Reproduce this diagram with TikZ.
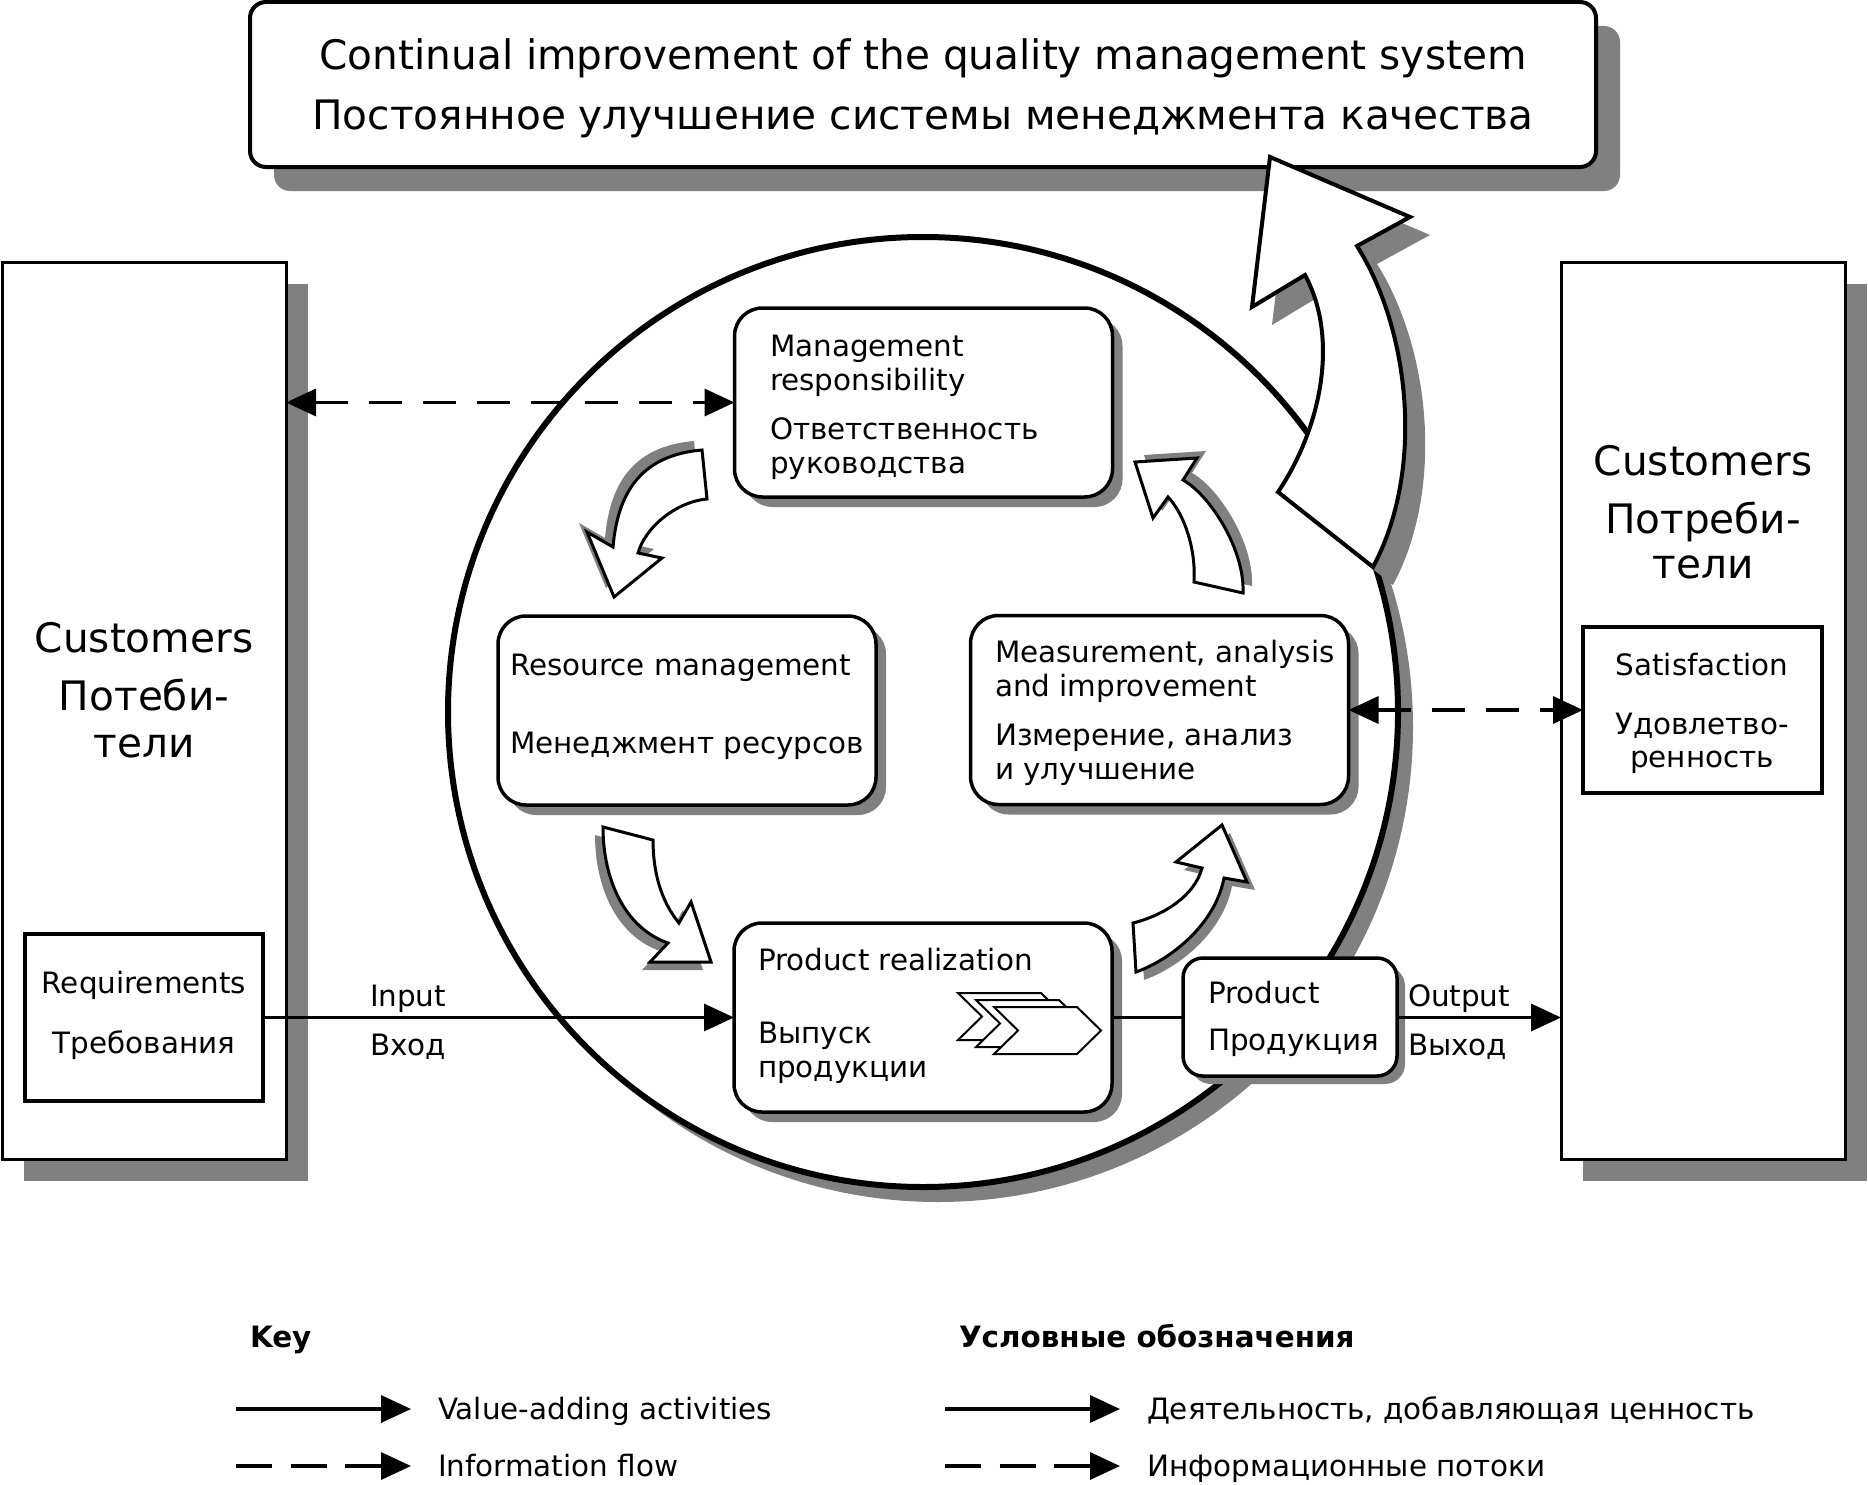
\documentclass[tikz,border=0pt]{standalone}
\usepackage{fontspec}
\setmainfont{DejaVu Sans}
\usetikzlibrary{arrows.meta,shadows}
\definecolor{shgray}{RGB}{128,128,128}
\newcommand\qArrA{(702,450) .. controls (644,455) and (618,489) .. (613,547) -- (587,532) -- (614,597) -- (662,558) -- (638,553) .. controls (645,528) and (675,502) .. (707,499) -- cycle}
\newcommand\qArrB{(1243,593) .. controls (1245,550) and (1210,495) .. (1183,480) -- (1197,458) -- (1135,462) -- (1153,518) -- (1168,497) .. controls (1185,515) and (1196,550) .. (1194,582) -- cycle}
\newcommand\qArrC{(603,827) .. controls (603,880) and (625,928) .. (668,943) -- (650,962) -- (711,962) -- (691,902) -- (679,923) .. controls (660,900) and (653,870) .. (653,840) -- cycle}
\newcommand\qArrD{(1136,972) .. controls (1170,960) and (1215,925) .. (1224,878) -- (1247,882) -- (1222,825) -- (1176,862) -- (1202,868) .. controls (1195,895) and (1165,915) .. (1133,923) -- cycle}
\newcommand\qArrBig{(1270,157) -- (1410,217) -- (1357,246) .. controls (1410,330) and (1425,470) .. (1373,567) -- (1278,492) .. controls (1320,430) and (1340,340) .. (1305,275) -- (1252,307) -- cycle}
\begin{document}
\begin{tikzpicture}[x=1pt,y=-1pt,
  every node/.style={inner sep=0pt,outer sep=0pt},
  >={Triangle[length=30pt,width=27pt]},
  bigf/.style={font=\fontsize{40.6pt}{48pt}\selectfont},
  smf/.style={font=\fontsize{29.4pt}{34pt}\selectfont},
  legb/.style={font=\fontsize{29.4pt}{34pt}\selectfont\bfseries},
  lbl/.style={smf,anchor=base west},
  ctrb/.style={bigf,anchor=base},
  ctrs/.style={smf,anchor=base},
  shd/.style={drop shadow={shadow xshift=#1,shadow yshift=-#1,fill=shgray,opacity=1}},
  titlebox/.style={draw,line width=4pt,fill=white,rounded corners=16pt,minimum width=1346pt,minimum height=165pt,shd=24pt},
  custbox/.style={draw,line width=3pt,fill=white,minimum width=284pt,minimum height=897pt,shd=22pt},
  plainbox/.style={draw,line width=4pt,fill=white,minimum width=238pt,minimum height=167pt},
  procbox/.style={draw,line width=3.5pt,fill=white,rounded corners=28pt,minimum width=378pt,minimum height=189pt,shd=10pt},
  prodbox/.style={draw,line width=3.5pt,fill=white,rounded corners=20pt,minimum width=214pt,minimum height=118pt,shd=8pt},
  flow/.style={line width=3.5pt,->},
  info/.style={line width=3.5pt,dash pattern=on 33pt off 21pt,<->},
  legdash/.style={line width=3.5pt,dash pattern=on 36pt off 18.5pt,->},
  blockarrow/.style={draw,line width=3pt,fill=white,line join=miter},
  chev/.style={draw,line width=2pt,fill=white,line join=miter},
]
\useasboundingbox (0,0) rectangle (1868,1485);

% title
\node[titlebox] (title) at (923,84.5) {};
\node[ctrb] (t1) at (923,70) {Continual improvement of the quality management system};
\node[ctrb] (t2) at (923,129) {Постоянное улучшение системы менеджмента качества};

% customers
\node[custbox] (custL) at (144,710.5) {};
\node[ctrb] (cl1) at (144,652) {Customers};
\node[ctrb] (cl2) at (144,710) {Потеби-};
\node[ctrb] (cl3) at (144,757) {тели};
\node[plainbox] (req) at (144,1017.5) {};
\node[ctrs] (rq1) at (144,993) {Requirements};
\node[ctrs] (rq2) at (144,1053) {Требования};

\node[custbox] (custR) at (1703,710.5) {};
\node[ctrb] (cr1) at (1703,475) {Customers};
\node[ctrb] (cr2) at (1703,533) {Потреби-};
\node[ctrb] (cr3) at (1703,578) {тели};
\node[plainbox,minimum width=239pt,minimum height=166pt] (sat) at (1702.5,710) {};
\node[ctrs] (st1) at (1702,675) {Satisfaction};
\node[ctrs] (st2) at (1702,734) {Удовлетво-};
\node[ctrs] (st3) at (1702,767) {ренность};

% circle
\node[circle,draw,line width=6pt,fill=white,minimum size=950pt,shd=15pt] (circ) at (923,712) {};

% process boxes
\node[procbox] (mgmt) at (923.5,402.5) {};
\node[lbl] (m1) at (770,356) {Management};
\node[lbl] (m2) at (770,390) {responsibility};
\node[lbl] (m3) at (770,439) {Ответственность};
\node[lbl] (m4) at (770,473) {руководства};

\node[procbox] (res) at (687,710.5) {};
\node[lbl] (r1) at (510,675) {Resource management};
\node[lbl] (r2) at (510,753) {Менеджмент ресурсов};

\node[procbox] (meas) at (1159.5,710) {};
\node[lbl] (a1) at (995,662) {Measurement, analysis};
\node[lbl] (a2) at (995,696) {and improvement};
\node[lbl] (a3) at (995,745) {Измерение, анализ};
\node[lbl] (a4) at (995,779) {и улучшение};

\node[procbox] (prodreal) at (923,1017.5) {};
\node[lbl] (p1) at (758,970) {Product realization};
\node[lbl] (p2) at (758,1043) {Выпуск};
\node[lbl] (p3) at (758,1077) {продукции};

% chevrons
\draw[chev] (958,993) -- ++(83,0) -- ++(24,23.5) -- ++(-24,23.5) -- ++(-83,0) -- ++(24,-23.5) -- cycle;
\draw[chev] (976,1000) -- ++(83,0) -- ++(24,23.5) -- ++(-24,23.5) -- ++(-83,0) -- ++(24,-23.5) -- cycle;
\draw[chev] (994,1007) -- ++(83,0) -- ++(24,23.5) -- ++(-24,23.5) -- ++(-83,0) -- ++(24,-23.5) -- cycle;

% curved block arrows
\fill[shgray,shift={(-8,-9)}] \qArrA;
\draw[blockarrow] \qArrA;
\fill[shgray,shift={(9,-7)}] \qArrB;
\draw[blockarrow] \qArrB;
\fill[shgray,shift={(-8,8)}] \qArrC;
\draw[blockarrow] \qArrC;
\fill[shgray,shift={(8,8)}] \qArrD;
\draw[blockarrow] \qArrD;

% connectors
\draw[flow] (req.east) -- (prodreal.west);
\node[lbl] (in1) at (370,1006) {Input};
\node[lbl] (in2) at (370,1055) {Вход};
\node[prodbox] (prod) at (1290,1017) {};
\node[lbl] (pd1) at (1208,1003) {Product};
\node[lbl] (pd2) at (1208,1050) {Продукция};
\draw[line width=3.5pt] (prodreal.east) -- (prodreal.east -| prod.west);
\draw[flow] (prodreal.east -| prod.east) -- (prodreal.east -| custR.west);
\node[lbl] (out1) at (1408,1006) {Output};
\node[lbl] (out2) at (1408,1055) {Выход};
\draw[info] (mgmt.west -| custL.east) -- (mgmt.west);
\draw[info] (meas.east) -- (meas.east -| sat.west);

% big arrow
\fill[shgray,shift={(20,18)}] \qArrBig;
\draw[blockarrow,line width=4pt] \qArrBig;

% legend
\node[legb,anchor=base west] (key) at (250,1347) {Key};
\node[legb,anchor=base west] (keyru) at (959,1347) {Условные обозначения};
\coordinate (ka1) at (236,1409); \coordinate (ka2) at (411,1409);
\coordinate (kb1) at (236,1466); \coordinate (kb2) at (411,1466);
\coordinate (kc1) at (945,1409); \coordinate (kc2) at (1120,1409);
\coordinate (kd1) at (945,1466); \coordinate (kd2) at (1120,1466);
\draw[flow] (ka1) -- (ka2);
\draw[legdash] (kb1) -- (kb2);
\draw[flow] (kc1) -- (kc2);
\draw[legdash] (kd1) -- (kd2);
\node[lbl] (kv) at (438,1419) {Value-adding activities};
\node[lbl] (ki) at (438,1476) {Information flow};
\node[lbl] (kvr) at (1147,1419) {Деятельность, добавляющая ценность};
\node[lbl] (kir) at (1147,1476) {Информационные потоки};
\end{tikzpicture}
\end{document}
